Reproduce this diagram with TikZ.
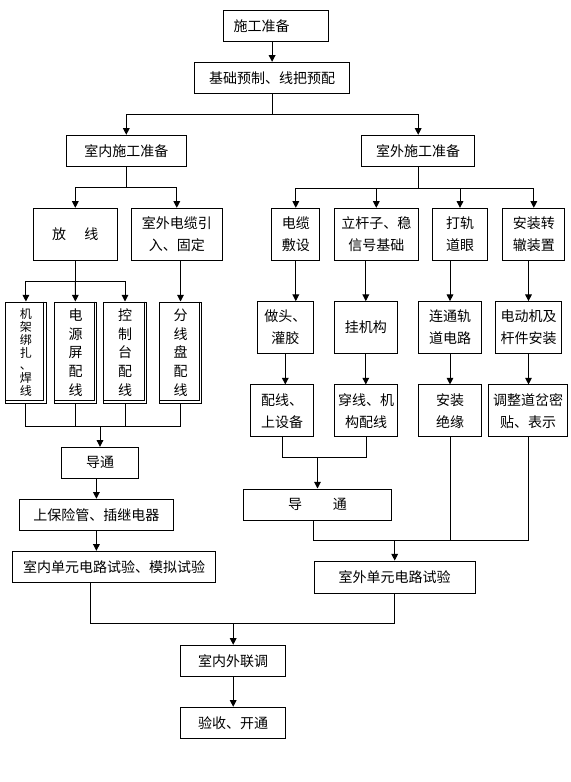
\documentclass[tikz,border=0pt]{standalone}
\usepackage{fontspec}
\newfontfamily\cjk{Noto Sans CJK SC}
\usetikzlibrary{arrows.meta}

\begin{document}
\begin{tikzpicture}[x=0.75pt,y=-0.75pt,line width=0.75pt,
    box/.style={draw,inner sep=0pt,align=center,minimum height=23.25pt,
      font=\cjk\fontsize{10.5}{16.5}\selectfont},
    tallbox/.style={box,minimum height=38.8pt},
    vbox/.style={box,minimum height=75.75pt,font=\cjk\fontsize{10.5}{14}\selectfont},
    arr/.style={-{Triangle[width=5pt,length=5pt]}}]
    \useasboundingbox (0,0) rectangle (571,782);
    % Preparação
    \node[box,minimum width=78.75pt] (prep) at (275.5,25.8) {施工准备\hspace{2em}};
    \node[box,minimum width=115.8pt] (pre) at (272.1,77.8) {基础预制、线把预配};
    \node[box,minimum width=89.8pt] (inprep) at (126.3,150.8) {室内施工准备};
    \node[box,minimum width=84.4pt] (outprep) at (418.2,150.8) {室外施工准备};
    \draw[arr] (pre.north |- prep.south) -- (pre);
    \path (pre.south) ++(0,21) coordinate (j1);
    \draw (pre) -- (j1);
    \draw[arr] (j1) -| (inprep);
    \draw[arr] (j1) -| (outprep);
    %室内
    \node[tallbox,minimum width=63pt] (fangxian) at (75.3,234.2) {放\hspace{1.3em}线};
    \node[tallbox,minimum width=68.25pt] (yinru) at (176.8,234.2) {室外电缆引\\入、固定};
    \node[vbox,minimum width=30.2pt,font=\cjk\fontsize{9}{9.6}\selectfont] (v1) at (25.9,352.5) {机\\架\\绑\\扎\\、\\焊\\线};
    \node[vbox,minimum width=31.8pt] (v2) at (75.5,352.5) {电\\源\\屏\\配\\线};
    \node[vbox,minimum width=32.55pt] (v3) at (125,352.5) {控\\制\\台\\配\\线};
    \node[vbox,minimum width=31.8pt] (v4) at (180.5,352.5) {分\\线\\盘\\配\\线};
    \foreach \n in {v1,v2,v3,v4}
        \draw ([xshift=-2pt]\n.north east) |- ([yshift=2pt]\n.south west);
    \path (inprep.south) ++(0,21) coordinate (j2);
    \draw (inprep.south) -- (j2);
    \draw[arr] (j2) -| (fangxian);
    \draw[arr] (j2) -| (yinru);
    \path (fangxian.south) ++(0,21) coordinate (j3);
    \draw (fangxian) -- (j3);
    \draw[arr] (j3) -| (v1);
    \draw[arr] (j3) -- (v2);
    \draw[arr] (j3) -| (v3);
    \draw[arr] (yinru.south -| v4.north) -- (v4);
    \node[box,minimum width=58pt] (tong1) at (100,462.8) {导通};
    \node[box,minimum width=115.6pt] (bxg) at (96.4,514.7) {上保险管、插继电器};
    \node[box,minimum width=152.5pt] (shinei) at (114,566.8) {室内单元电路试验、模拟试验};
    \path (v1.south) ++(0,23) coordinate (j4);
    \draw (v1.south) -- (j4) -| (v4.south);
    \draw (v2.south) -- (v2.south |- j4);
    \draw (v3.south) -- (v3.south |- j4);
    \draw[arr] (tong1.north |- j4) -- (tong1);
    \draw[arr] (bxg.north |- tong1.south) -- (bxg);
    \draw[arr] (bxg) -- (bxg |- shinei.north);
    %室外
    \node[tallbox,minimum width=36.2pt] (r1a) at (295.8,234.2) {电缆\\敷设};
    \node[tallbox,minimum width=63pt] (r1b) at (376.3,234.2) {立杆子、稳\\信号基础};
    \node[tallbox,minimum width=41.55pt] (r1c) at (460,234.2) {打轨\\道眼};
    \node[tallbox,minimum width=46.7pt] (r1d) at (533.8,234.2) {安装转\\辙装置};
    \node[tallbox,minimum width=42pt] (r2a) at (285.3,327.5) {做头、\\灌胶};
    \node[tallbox,minimum width=47.25pt] (r2b) at (365.8,327.5) {挂机构};
    \node[tallbox,minimum width=46.95pt] (r2c) at (450,327.5) {连通轨\\道电路};
    \node[tallbox,minimum width=49.2pt] (r2d) at (528.5,327.5) {电动机及\\杆件安装};
    \node[tallbox,minimum width=46.95pt] (r3a) at (282,410.8) {配线、\\上设备};
    \node[tallbox,minimum width=47.55pt] (r3b) at (366,410.8) {穿线、机\\构配线};
    \node[tallbox,minimum width=46.95pt] (r3c) at (450,410.8) {安装\\绝缘};
    \node[tallbox,minimum width=59.25pt] (r3d) at (528.2,410.8) {调整道岔密\\贴、表示};
    \path (outprep.south) ++(0,22) coordinate (j5);
    \draw (outprep) -- (j5);
    \foreach \n in {r1a,r1b,r1c,r1d}
        \draw[arr] (j5) -| (\n);
    \draw[arr] (r1a.south) -- (r1a.south |- r2a.north);
    \draw[arr] (r2a) -- (r2a |- r3a.north);
    \foreach \c in {b,c,d} {
        \draw[arr] (r2\c |- r1\c.south) -- (r2\c);
        \draw[arr] (r2\c) -- (r2\c |- r3\c.north);
    }
    \node[box,minimum width=110.55pt] (tong2) at (317.5,504.5) {导\hspace{2.2em}通};
    \node[box,minimum width=120.75pt,minimum height=24.2pt] (shiwai) at (394.7,577.2) {室外单元电路试验};
    \path (r3a.south) ++(0,20) coordinate (j6);
    \draw (r3a.south) -- (j6) -| (r3b.south);
    \draw[arr] (tong2.north |- j6) -- (tong2);
    \path (shiwai.north) ++(0,-20) coordinate (j7);
    \draw (tong2.south -| shiwai.west) -- (shiwai.west |- j7) -- (r3d |- j7) -- (r3d.south);
    \draw (r3c.south) -- (r3c |- j7);
    \draw[arr] (j7) -- (shiwai);
    %联调
    \node[box,minimum width=78.8pt] (liantiao) at (233.2,660.8) {室内外联调};
    \node[box,minimum width=78.8pt] (yanshou) at (233.2,722.8) {验收、开通};
    \path (liantiao.north) ++(0,-21) coordinate (j8);
    \draw ([xshift=-18pt]shinei.south) |- (j8) -| (shiwai.south);
    \draw[arr] (j8) -- (liantiao);
    \draw[arr] (liantiao) -- (yanshou);
\end{tikzpicture}
\end{document}
